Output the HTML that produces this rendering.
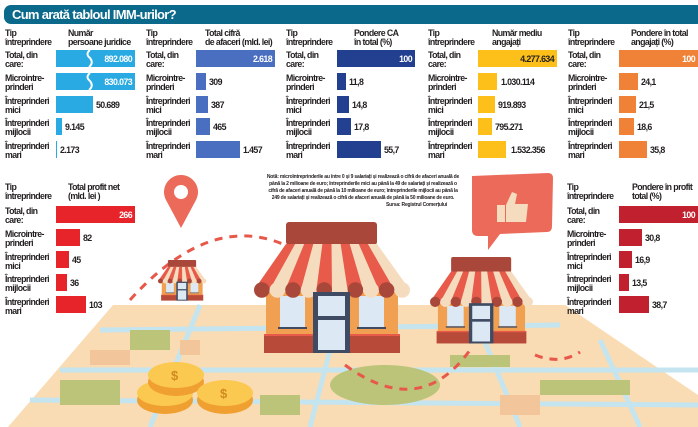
<!DOCTYPE html>
<html><head><meta charset="utf-8"><style>
html,body{margin:0;padding:0;background:#fff;}
svg{display:block}
text{font-family:"Liberation Sans",sans-serif;font-weight:bold;fill:#231f20;font-size:8.8px;letter-spacing:-0.6px}
.w{fill:#fff}
</style></head><body>
<svg width="698" height="427" viewBox="0 0 698 427" xmlns="http://www.w3.org/2000/svg">
<defs>
<g id="shop">
  <rect x="32" y="0" width="91" height="23" rx="3" fill="#a8473a"/>
  <polygon points="32,22 123,22 156,68 0,68" fill="#f6dcbf"/>
  <polygon points="32,22 41.1,22 15.6,68 0,68" fill="#e85a4a"/>
  <polygon points="50.2,22 59.3,22 46.8,68 31.2,68" fill="#e85a4a"/>
  <polygon points="68.4,22 77.5,22 78,68 62.4,68" fill="#e85a4a"/>
  <polygon points="86.6,22 95.7,22 109.2,68 93.6,68" fill="#e85a4a"/>
  <polygon points="104.8,22 113.9,22 140.4,68 124.8,68" fill="#e85a4a"/>
  <rect x="12" y="70" width="132" height="46" fill="#f0a050"/>
  <rect x="26" y="74" width="25" height="31" fill="#dce9f5"/>
  <rect x="105" y="74" width="25" height="31" fill="#dce9f5"/>
  <rect x="24" y="105" width="29" height="2" fill="#3f4a63"/>
  <rect x="103" y="105" width="29" height="2" fill="#3f4a63"/>
  <rect x="10" y="113" width="136" height="18" fill="#b84a3a"/>
  <rect x="10" y="112" width="136" height="2" fill="#e85a4a"/>
  <circle cx="7.8" cy="68" r="7.8" fill="#a8473a"/><circle cx="23.4" cy="68" r="7.8" fill="#f6dcbf"/>
  <circle cx="39" cy="68" r="7.8" fill="#a8473a"/><circle cx="54.6" cy="68" r="7.8" fill="#f6dcbf"/>
  <circle cx="70.2" cy="68" r="7.8" fill="#a8473a"/><circle cx="85.8" cy="68" r="7.8" fill="#f6dcbf"/>
  <circle cx="101.4" cy="68" r="7.8" fill="#a8473a"/><circle cx="117" cy="68" r="7.8" fill="#f6dcbf"/>
  <circle cx="132.6" cy="68" r="7.8" fill="#a8473a"/><circle cx="148.2" cy="68" r="7.8" fill="#f6dcbf"/>
  <rect x="59" y="70" width="37" height="61" fill="#3f4a63"/>
  <rect x="64" y="74" width="27" height="20" fill="#dce9f5"/>
  <rect x="64" y="98" width="27" height="30" fill="#dce9f5"/>
</g>
</defs>
<!-- title -->
<rect x="4" y="5" width="700" height="19" rx="7" fill="#0b6a8c"/>
<text x="12" y="19" class="w" style="font-size:13px;letter-spacing:-0.7px">Cum arată tabloul IMM-urilor?</text>

<!-- map -->
<polygon points="113,305 565,305 698,395 698,427 8,427" fill="#f9dcb4"/>
<g fill="none" stroke="#c4e4f0" stroke-width="5">
<path d="M100,330 L560,325"/><path d="M60,370 L698,370"/><path d="M30,400 L698,405"/>
<path d="M200,305 L150,427"/><path d="M330,350 L310,427"/><path d="M480,330 L520,427"/><path d="M600,340 L640,427"/>
</g>
<g fill="#bcc47a">
<ellipse cx="385" cy="385" rx="55" ry="20"/>
<rect x="60" y="380" width="60" height="25"/><rect x="540" y="380" width="90" height="15"/><rect x="130" y="330" width="40" height="20"/>
<rect x="450" y="355" width="60" height="12"/><rect x="260" y="395" width="40" height="20"/>
</g>
<g fill="#f3c59a"><rect x="180" y="340" width="20" height="15"/><rect x="500" y="395" width="40" height="20"/><rect x="90" y="350" width="40" height="15"/></g>

<!-- dashed paths -->
<path d="M130,300 Q220,200 305,256" fill="none" stroke="#e8584a" stroke-width="3" stroke-dasharray="8,7"/>
<path d="M345,365 Q420,420 470,350" fill="none" stroke="#e8584a" stroke-width="3" stroke-dasharray="8,7"/>
<path d="M535,355 Q560,365 580,352" fill="none" stroke="#e8584a" stroke-width="3" stroke-dasharray="8,7"/>

<!-- pin -->
<path d="M181,228 L166,200 A17,17 0 1 1 196,200 Z" fill="#ec6a5a"/>
<circle cx="181" cy="192" r="7" fill="#fff"/>
<!-- bubble -->
<path d="M472,176 L548,173 Q553,173 553,178 L552,226 Q552,232 547,232 L500,234 L488,250 L488,236 L478,236 Q472,236 472,230 Z" fill="#ec6a5a"/>
<rect x="497" y="205" width="8" height="17" fill="#f6dcbf"/><path d="M506,205 L512,192 L517,194 L515,204 L528,204 L526,222 L506,222 Z" fill="#f6dcbf"/>

<!-- shops -->
<use href="#shop" transform="translate(254,222)"/>
<use href="#shop" transform="translate(430,257) scale(0.66)"/>
<use href="#shop" transform="translate(158,260) scale(0.31)"/>

<!-- coins -->
<g>
<ellipse cx="165" cy="400" rx="28" ry="14" fill="#f0a030"/><ellipse cx="165" cy="393" rx="28" ry="13" fill="#fbc850"/>
<ellipse cx="176" cy="382" rx="28" ry="14" fill="#f0a030"/><ellipse cx="176" cy="375" rx="28" ry="13" fill="#fbc850"/>
<ellipse cx="225" cy="400" rx="28" ry="14" fill="#f0a030"/><ellipse cx="225" cy="393" rx="28" ry="13" fill="#fbc850"/>
<text x="171" y="380" style="font-size:13px;fill:#d08a20">$</text><text x="220" y="398" style="font-size:13px;fill:#d08a20">$</text>
</g>

<!-- note -->
<g>
<text x="363" y="178" text-anchor="middle" style="font-size:5px;letter-spacing:-0.2px">Notă: microîntreprinderile au între 0 și 9 salariați și realizează o cifră de afaceri anuală de</text>
<text x="363" y="185" text-anchor="middle" style="font-size:5px;letter-spacing:-0.2px">până la 2 milioane de euro; întreprinderile mici au până la 49 de salariați și realizează o</text>
<text x="363" y="192" text-anchor="middle" style="font-size:5px;letter-spacing:-0.2px">cifră de afaceri anuală de până la 10 milioane de euro; întreprinderile mijlocii au până la</text>
<text x="363" y="199" text-anchor="middle" style="font-size:5px;letter-spacing:-0.2px">249 de salariați și realizează o cifră de afaceri anuală de până la 50 milioane de euro.</text>
<text x="447" y="206" text-anchor="end" style="font-size:5px;letter-spacing:-0.2px">Sursa: Registrul Comerțului</text>
</g>

<!-- top charts: labels -->
<g>
<text x="5" y="36">Tip</text><text x="5" y="45">întreprindere</text>
<text x="146" y="36">Tip</text><text x="146" y="45">întreprindere</text>
<text x="286" y="36">Tip</text><text x="286" y="45">întreprindere</text>
<text x="428" y="36">Tip</text><text x="428" y="45">întreprindere</text>
<text x="568" y="36">Tip</text><text x="568" y="45">întreprindere</text>
<text x="68" y="36">Număr</text><text x="68" y="45">persoane juridice</text>
<text x="205" y="36">Total cifră</text><text x="205" y="45">de afaceri (mld. lei)</text>
<text x="354" y="36">Pondere CA</text><text x="354" y="45">în total (%)</text>
<text x="492" y="36">Număr mediu</text><text x="492" y="45">angajați</text>
<text x="631" y="36">Pondere în total</text><text x="631" y="45">angajați (%)</text>
</g>
<g id="rowlabels">
<text x="5" y="58">Total, din</text><text x="5" y="67">care:</text>
<text x="5" y="81">Microintre-</text><text x="5" y="90">prinderi</text>
<text x="5" y="104">Întreprinderi</text><text x="5" y="113">mici</text>
<text x="5" y="126">Întreprinderi</text><text x="5" y="135">mijlocii</text>
<text x="5" y="149">Întreprinderi</text><text x="5" y="158">mari</text>
</g>
<use href="#rowlabels" x="141"/><use href="#rowlabels" x="281"/><use href="#rowlabels" x="423"/><use href="#rowlabels" x="563"/>

<!-- group1 -->
<g fill="#29aae2">
<rect x="56" y="50" width="79" height="17"/><rect x="56" y="73" width="79" height="17"/>
<rect x="56" y="96" width="37" height="17"/><rect x="56" y="118" width="6" height="17"/><rect x="56" y="141" width="1" height="17"/>
</g>
<path d="M90,50 q-5,4 0,8 q4,5 -1,9" stroke="#fff" stroke-width="2" fill="none"/>
<path d="M90,73 q-5,4 0,8 q4,5 -1,9" stroke="#fff" stroke-width="2" fill="none"/>
<text x="132" y="62" text-anchor="end" class="w">892.080</text><text x="132" y="85" text-anchor="end" class="w">830.073</text>
<text x="96" y="108">50.689</text><text x="65" y="130">9.145</text><text x="60" y="153">2.173</text>
<!-- group2 -->
<g fill="#4a6fc0">
<rect x="196" y="50" width="79" height="17"/><rect x="196" y="73" width="10" height="17"/>
<rect x="196" y="96" width="12" height="17"/><rect x="196" y="118" width="14" height="17"/><rect x="196" y="141" width="44" height="17"/>
</g>
<text x="272" y="62" text-anchor="end" class="w">2.618</text>
<text x="209" y="85">309</text><text x="211" y="108">387</text><text x="213" y="130">465</text><text x="243" y="153">1.457</text>
<!-- group3 -->
<g fill="#233f8f">
<rect x="337" y="50" width="78" height="17"/><rect x="337" y="73" width="9" height="17"/>
<rect x="337" y="96" width="12" height="17"/><rect x="337" y="118" width="14" height="17"/><rect x="337" y="141" width="44" height="17"/>
</g>
<text x="412" y="62" text-anchor="end" class="w">100</text>
<text x="349" y="85">11,8</text><text x="352" y="108">14,8</text><text x="354" y="130">17,8</text><text x="384" y="153">55,7</text>
<!-- group4 -->
<g fill="#fdbf1a">
<rect x="478" y="50" width="79" height="17"/><rect x="478" y="73" width="19" height="17"/>
<rect x="478" y="96" width="17" height="17"/><rect x="478" y="118" width="14" height="17"/><rect x="478" y="141" width="28" height="17"/>
</g>
<text x="554" y="62" text-anchor="end">4.277.634</text>
<text x="501" y="85">1.030.114</text><text x="498" y="108">919.893</text><text x="495" y="130">795.271</text><text x="511" y="153">1.532.356</text>
<!-- group5 -->
<g fill="#ef8236">
<rect x="619" y="50" width="79" height="17"/><rect x="619" y="73" width="19" height="17"/>
<rect x="619" y="96" width="17" height="17"/><rect x="619" y="118" width="15" height="17"/><rect x="619" y="141" width="28" height="17"/>
</g>
<text x="695" y="62" text-anchor="end" class="w">100</text>
<text x="641" y="85">24,1</text><text x="639" y="108">21,5</text><text x="637" y="130">18,6</text><text x="650" y="153">35,8</text>

<!-- bottom left -->
<text x="5" y="190">Tip</text><text x="5" y="199">întreprindere</text>
<text x="68" y="190">Total profit net</text><text x="68" y="199">(mld. lei )</text>
<g transform="translate(0,156)">
<text x="5" y="58">Total, din</text><text x="5" y="67">care:</text>
<text x="5" y="81">Microintre-</text><text x="5" y="90">prinderi</text>
<text x="5" y="104">Întreprinderi</text><text x="5" y="113">mici</text>
<text x="5" y="126">Întreprinderi</text><text x="5" y="135">mijlocii</text>
<text x="5" y="149">Întreprinderi</text><text x="5" y="158">mari</text>
</g>
<g fill="#e8242b">
<rect x="56" y="206" width="79" height="17"/><rect x="56" y="229" width="24" height="17"/>
<rect x="56" y="251" width="13" height="17"/><rect x="56" y="274" width="11" height="17"/><rect x="56" y="296" width="30" height="17"/>
</g>
<text x="132" y="218" text-anchor="end" class="w">266</text>
<text x="83" y="241">82</text><text x="72" y="263">45</text><text x="70" y="286">36</text><text x="89" y="308">103</text>

<!-- bottom right -->
<text x="567" y="190">Tip</text><text x="567" y="199">întreprindere</text>
<text x="632" y="190">Pondere în profit</text><text x="632" y="199">total (%)</text>
<g transform="translate(562,156)">
<text x="5" y="58">Total, din</text><text x="5" y="67">care:</text>
<text x="5" y="81">Microintre-</text><text x="5" y="90">prinderi</text>
<text x="5" y="104">Întreprinderi</text><text x="5" y="113">mici</text>
<text x="5" y="126">Întreprinderi</text><text x="5" y="135">mijlocii</text>
<text x="5" y="149">Întreprinderi</text><text x="5" y="158">mari</text>
</g>
<g fill="#c1202e">
<rect x="619" y="206" width="79" height="17"/><rect x="619" y="229" width="23" height="17"/>
<rect x="619" y="251" width="13" height="17"/><rect x="619" y="274" width="10" height="17"/><rect x="619" y="296" width="30" height="17"/>
</g>
<text x="695" y="218" text-anchor="end" class="w">100</text>
<text x="645" y="241">30,8</text><text x="635" y="263">16,9</text><text x="632" y="286">13,5</text><text x="652" y="308">38,7</text>
</svg>
</body></html>
